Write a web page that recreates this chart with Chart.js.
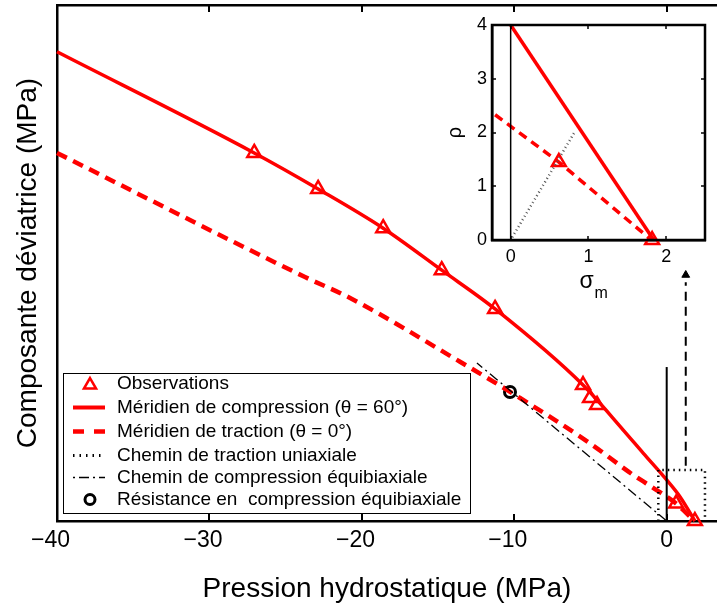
<!DOCTYPE html>
<html><head><meta charset="utf-8">
<script src="https://cdn.jsdelivr.net/npm/chart.js@4.4.0/dist/chart.umd.min.js"></script>
<style>
html,body{margin:0;padding:0;background:#fff;overflow:hidden;}
#wrap{position:relative;width:717px;height:607px;}
#main{position:absolute;left:0;top:0;}
#inset{position:absolute;left:430px;top:10px;}
</style></head><body>
<div id="wrap">
<canvas id="main" width="717" height="607"></canvas>
<canvas id="inset" width="287" height="290"></canvas>
</div>
<script>
// ---------- data (main plot) ----------
const xTicks = [-40, -30, -20, -10, 0];
const obsX = [-27.06, -22.87, -18.6, -14.76, -11.26, -5.49, -5.03, -4.57, 0.62, 1.85];
const obsY = [30.67, 27.67, 24.4, 20.9, 17.67, 11.33, 10.25, 9.67, 1.45, 0];
const compX = [-40, -27.06, -22.87, -18.6, -14.76, -11.26, -5.49, -2.85, -1.53, 0, 0.87, 1.85];
const compY = [39.1, 30.67, 27.67, 24.4, 20.9, 17.67, 11.33, 7.58, 5.64, 3.42, 2.03, 0];
const tracX = [-40, -23.73, -20.77, -13.56, -9.62, -5.03, -2.19, -0.66, 0.62, 1.83];
const tracY = [30.67, 20.33, 18.58, 13.27, 10.25, 6.47, 3.83, 2.58, 1.45, 0];
const uniX = [-0.55, -0.55, 2.51, 2.51];
const uniY = [0, 4.25, 4.25, 0];
const eqbX = [0, -12.45];
const eqbY = [0, 13.17];
const resX = [-10.28];
const resY = [10.75];
const zeroX = [0, 0];
const zeroY = [0, 12.83];
const arrowX = [1.25, 1.25];
const arrowY = [4.6, 19.9];
const tipX = [1.25];
const tipY = [20.5];
// ---------- data (inset) ----------
const inXTicks = [0, 1, 2];
const inYTicks = [0, 1, 2, 3, 4];
const inCompX = [0, 1.84];
const inCompY = [4, 0];
const inTracX = [-0.2, 0.62, 1.81];
const inTracY = [2.33, 1.45, 0];
const inObsX = [0.62, 1.82];
const inObsY = [1.45, 0];
const inPathX = [0.02, 0.82];
const inPathY = [0.05, 2.0];
const inZeroX = [0, 0];
const inZeroY = [0, 4];

const legendLabels = ['Observations', 'Méridien de compression (θ = 60°)', 'Méridien de traction (θ = 0°)',
  'Chemin de traction uniaxiale', 'Chemin de compression équibiaxiale', 'Résistance en  compression équibiaxiale'];

const FONT = "'Liberation Sans', Arial, Helvetica, sans-serif";
const RED = '#ff0000';
const pts = (xs, ys) => xs.map((x, i) => ({x: x, y: ys[i]}));

// ---------- plugins ----------
const mainDeco = {
  id: 'mainDeco',
  afterDraw(chart) {
    const ctx = chart.ctx, a = chart.chartArea, sx = chart.scales.x;
    ctx.save();
    ctx.strokeStyle = '#000'; ctx.lineWidth = 2;
    xTicks.forEach(v => {
      const p = Math.round(sx.getPixelForValue(v));
      ctx.beginPath(); ctx.moveTo(p, a.bottom); ctx.lineTo(p, a.bottom - 7); ctx.stroke();
      ctx.beginPath(); ctx.moveTo(p, a.top); ctx.lineTo(p, a.top + 7); ctx.stroke();
    });
    // legend
    const bx = 63.5, by = 373.5, bw = 407, bh = 140;
    ctx.fillStyle = '#fff'; ctx.fillRect(bx, by, bw, bh);
    ctx.lineWidth = 1; ctx.strokeStyle = '#000'; ctx.strokeRect(bx, by, bw, bh);
    const rows = [384, 407.5, 431.5, 455.5, 477.5, 499.5];
    const x0 = 73, x1 = 105, xm = 90;
    ctx.fillStyle = 'rgba(0,0,0,0)';
    ctx.strokeStyle = RED; ctx.lineWidth = 2.5;
    Chart.helpers.drawPoint(ctx, {pointStyle: 'triangle', radius: 7, rotation: 0, borderWidth: 2.5}, xm, rows[0] + 1);
    ctx.setLineDash([]); ctx.lineWidth = 4;
    ctx.beginPath(); ctx.moveTo(x0, rows[1]); ctx.lineTo(x1, rows[1]); ctx.stroke();
    ctx.setLineDash([11, 10]); ctx.lineWidth = 4.5;
    ctx.beginPath(); ctx.moveTo(x0, rows[2]); ctx.lineTo(x1, rows[2]); ctx.stroke();
    ctx.strokeStyle = '#000';
    ctx.setLineDash([1.5, 5]); ctx.lineWidth = 3;
    ctx.beginPath(); ctx.moveTo(x0, rows[3]); ctx.lineTo(x1 - 4, rows[3]); ctx.stroke();
    ctx.setLineDash([2, 4, 10, 4]); ctx.lineWidth = 1.5;
    ctx.beginPath(); ctx.moveTo(x0, rows[4]); ctx.lineTo(x1, rows[4]); ctx.stroke();
    ctx.setLineDash([]); ctx.lineWidth = 3;
    Chart.helpers.drawPoint(ctx, {pointStyle: 'circle', radius: 5, rotation: 0, borderWidth: 3}, xm, rows[5]);
    ctx.fillStyle = '#000';
    ctx.font = '19px ' + FONT;
    ctx.textAlign = 'left'; ctx.textBaseline = 'middle';
    legendLabels.forEach((t, i) => ctx.fillText(t, 117, rows[i]));
    ctx.restore();
  }
};

const insetDeco = {
  id: 'insetDeco',
  beforeDraw(chart) {
    const ctx = chart.ctx, a = chart.chartArea;
    ctx.save(); ctx.fillStyle = '#fff';
    ctx.fillRect(a.left, a.top, a.right - a.left, a.bottom - a.top);
    ctx.restore();
  },
  afterDraw(chart) {
    const ctx = chart.ctx, a = chart.chartArea, sx = chart.scales.x, sy = chart.scales.y;
    ctx.save();
    ctx.strokeStyle = '#000'; ctx.lineWidth = 2.5;
    ctx.strokeRect(a.left, a.top, a.right - a.left, a.bottom - a.top);
    ctx.lineWidth = 1.5;
    inXTicks.forEach(v => {
      const p = Math.round(sx.getPixelForValue(v));
      ctx.beginPath(); ctx.moveTo(p, a.bottom); ctx.lineTo(p, a.bottom - 4); ctx.stroke();
      ctx.beginPath(); ctx.moveTo(p, a.top); ctx.lineTo(p, a.top + 4); ctx.stroke();
    });
    inYTicks.forEach(v => {
      const p = Math.round(sy.getPixelForValue(v));
      ctx.beginPath(); ctx.moveTo(a.left, p); ctx.lineTo(a.left + 4, p); ctx.stroke();
      ctx.beginPath(); ctx.moveTo(a.right, p); ctx.lineTo(a.right - 4, p); ctx.stroke();
    });
    const cx = (a.left + a.right) / 2;
    ctx.fillStyle = '#000'; ctx.textAlign = 'left'; ctx.textBaseline = 'alphabetic';
    ctx.font = '23px ' + FONT;
    ctx.fillText('σ', cx - 19, a.bottom + 48);
    ctx.font = '16px ' + FONT;
    ctx.fillText('m', cx - 4, a.bottom + 58);
    ctx.restore();
  }
};

const axisBorder = {display: true, color: '#000', width: 2.5};
const noGrid = {display: false, drawTicks: false};
const noPad = s => { s.paddingLeft = 0; s.paddingRight = 0; s.paddingTop = 0; s.paddingBottom = 0; };

// ---------- main chart ----------
new Chart(document.getElementById('main'), {
  type: 'scatter',
  data: {
    datasets: [
      {label: legendLabels[3], data: pts(uniX, uniY), showLine: true, borderColor: '#000', borderWidth: 2.5, borderDash: [1.5, 4], pointRadius: 0, clip: false},
      {label: legendLabels[4], data: pts(eqbX, eqbY), showLine: true, borderColor: '#000', borderWidth: 1.3, borderDash: [10, 4, 2, 4], pointRadius: 0, clip: false},
      {label: 'axe', data: pts(zeroX, zeroY), showLine: true, borderColor: '#000', borderWidth: 2, pointRadius: 0, clip: false},
      {label: 'flèche', data: pts(arrowX, arrowY), showLine: true, borderColor: '#000', borderWidth: 2, borderDash: [9, 6], pointRadius: 0, clip: false},
      {label: 'pointe', data: pts(tipX, tipY), pointStyle: 'triangle', pointRadius: 4.5, backgroundColor: '#000', borderColor: '#000', borderWidth: 1, clip: false},
      {label: legendLabels[2], data: pts(tracX, tracY), showLine: true, borderColor: RED, borderWidth: 4.5, borderDash: [11, 7], pointRadius: 0, cubicInterpolationMode: 'monotone', clip: false},
      {label: legendLabels[1], data: pts(compX, compY), showLine: true, borderColor: RED, borderWidth: 3.5, pointRadius: 0, cubicInterpolationMode: 'monotone', clip: false},
      {label: legendLabels[0], data: pts(obsX, obsY), pointStyle: 'triangle', pointRadius: 8, borderColor: RED, borderWidth: 2.5, backgroundColor: 'rgba(0,0,0,0)', clip: false},
      {label: legendLabels[5], data: pts(resX, resY), pointStyle: 'circle', pointRadius: 5.5, borderColor: '#000', borderWidth: 3, backgroundColor: 'rgba(0,0,0,0)', clip: false}
    ]
  },
  options: {
    responsive: false, animation: false, devicePixelRatio: 1, events: [],
    layout: {padding: 0, autoPadding: false},
    plugins: {legend: {display: false}, tooltip: {enabled: false}},
    scales: {
      x: {
        type: 'linear', position: 'bottom', min: -40, max: 3.3,
        afterBuildTicks: s => { s.ticks = xTicks.map(v => ({value: v})); },
        afterFit: s => { s.height = 86; noPad(s); },
        grid: noGrid, border: axisBorder,
        ticks: {color: '#000', font: {family: FONT, size: 23}, padding: 6, maxRotation: 0, autoSkip: false,
          callback: v => v < 0 ? '\u2212' + Math.abs(v) + '\u2007' : String(v)},
        title: {display: true, text: 'Pression hydrostatique (MPa)', color: '#000', font: {family: FONT, size: 28}, padding: {top: 0, bottom: 1}}
      },
      x2: {
        type: 'linear', axis: 'x', position: 'top', min: -40, max: 3.3,
        afterFit: s => { s.height = 5; noPad(s); },
        grid: noGrid, border: axisBorder, ticks: {display: false}
      },
      y: {
        type: 'linear', position: 'left', min: 0, max: 43,
        afterFit: s => { s.width = 57; noPad(s); },
        grid: noGrid, border: axisBorder, ticks: {display: false},
        title: {display: true, text: 'Composante déviatrice (MPa)', color: '#000', font: {family: FONT, size: 28}, padding: {top: 11, bottom: 0}}
      }
    }
  },
  plugins: [mainDeco]
});

// ---------- inset chart ----------
new Chart(document.getElementById('inset'), {
  type: 'scatter',
  data: {
    datasets: [
      {data: pts(inZeroX, inZeroY), showLine: true, borderColor: '#000', borderWidth: 1.5, pointRadius: 0},
      {data: pts(inPathX, inPathY), showLine: true, borderColor: '#555', borderWidth: 2.5, borderDash: [1, 3], pointRadius: 0},
      {data: pts(inCompX, inCompY), showLine: true, borderColor: RED, borderWidth: 3.5, pointRadius: 0, clip: false},
      {data: pts(inTracX, inTracY), showLine: true, borderColor: RED, borderWidth: 3.5, borderDash: [9, 6], pointRadius: 0, clip: false},
      {data: pts(inObsX, inObsY), pointStyle: 'triangle', pointRadius: 8, borderColor: RED, borderWidth: 2.5, backgroundColor: 'rgba(0,0,0,0)', clip: false}
    ]
  },
  options: {
    responsive: false, animation: false, devicePixelRatio: 1, events: [],
    layout: {padding: {top: 15, right: 12, left: 0, bottom: 0}, autoPadding: false},
    plugins: {legend: {display: false}, tooltip: {enabled: false}},
    scales: {
      x: {
        type: 'linear', position: 'bottom', min: -0.24, max: 2.5,
        afterBuildTicks: s => { s.ticks = inXTicks.map(v => ({value: v})); },
        afterFit: s => { s.height = 60; noPad(s); },
        grid: noGrid, border: axisBorder,
        ticks: {color: '#000', font: {family: FONT, size: 18}, padding: 6, maxRotation: 0, autoSkip: false}
      },
      y: {
        type: 'linear', position: 'left', min: 0, max: 4,
        afterBuildTicks: s => { s.ticks = inYTicks.map(v => ({value: v})); },
        afterFit: s => { s.width = 62; noPad(s); },
        grid: noGrid, border: axisBorder,
        ticks: {color: '#000', font: {family: FONT, size: 18}, padding: 5, autoSkip: false},
        title: {display: true, text: 'ρ', color: '#000', font: {family: FONT, size: 20}, padding: {top: 13, bottom: 0}}
      }
    }
  },
  plugins: [insetDeco]
});
</script>
</body></html>
